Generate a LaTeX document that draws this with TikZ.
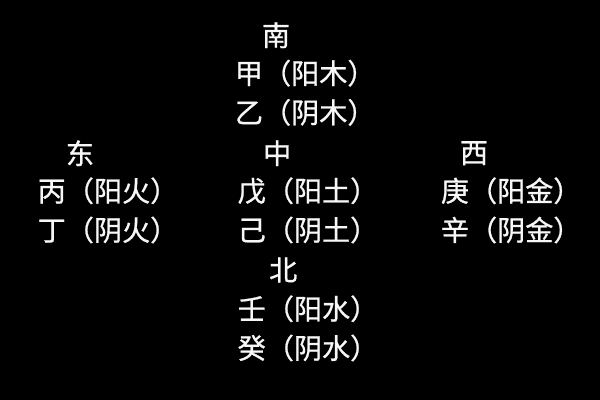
\documentclass[tikz,border=0pt]{standalone}
\usepackage{fontspec}
\newfontfamily\cjk[FakeBold=0.8,Kerning=Off]{Noto Sans CJK SC}
\usetikzlibrary{positioning}

\begin{document}
\begin{tikzpicture}
	[node distance={9.8mm}, main/.style = {text=white!94!gray, inner sep=0pt, font=\cjk\fontsize{20}{24}\selectfont}]
	\fill[black] (0,0) rectangle (15,-10);
	\node[main] (nan) at (6.9,-0.88) {南};
	\node[main] (jia) at (7.63,-1.83) {甲（阳木）};
	\node[main] (yi) [below of=jia] {乙（阴木）};
	\node[main] (dong) at (2.0,-3.83) {东};
	\node[main] (zhong) at (6.93,-3.83) {中};
	\node[main] (xi) at (11.85,-3.83) {西};
	\node[main] (bing) at (2.7,-4.77) {丙（阳火）};
	\node[main] (ding) [below of=bing] {丁（阴火）};
	\node[main] (wu) at (7.7,-4.77) {戊（阳土）};
	\node[main] (ji) [below of=wu] {己（阴土）};
	\node[main] (geng) at (12.78,-4.77) {庚（阳金）};
	\node[main] (xin) [below of=geng] {辛（阴金）};
	\node[main] (bei) at (7.08,-6.75) {北};
	\node[main] (ren) at (7.7,-7.72) {壬（阳水）};
	\node[main] (gui) [below of=ren] {癸（阴水）};
\end{tikzpicture}
\end{document}
